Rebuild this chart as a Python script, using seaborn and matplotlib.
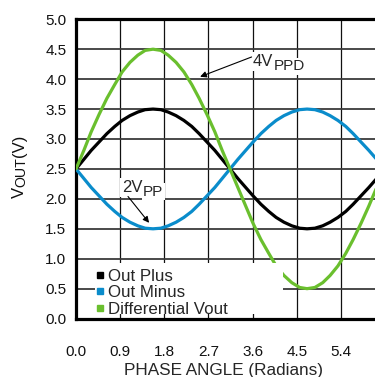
import pandas as pd
import matplotlib
matplotlib.use("Agg")
import matplotlib.pyplot as plt
import seaborn as sns
from matplotlib.lines import Line2D
from matplotlib.patches import Rectangle

# values (radians / volts)
phase = [0.00, 0.16, 0.31, 0.47, 0.63, 0.79, 0.94, 1.10, 1.26, 1.41, 1.57,
         1.73, 1.88, 2.04, 2.20, 2.36, 2.51, 2.67, 2.83, 2.98, 3.14,
         3.30, 3.46, 3.61, 3.77, 3.93, 4.08, 4.24, 4.40, 4.56, 4.71,
         4.87, 5.03, 5.18, 5.34, 5.50, 5.65, 5.81, 5.97, 6.13, 6.28]
out_plus = [2.50, 2.66, 2.81, 2.95, 3.09, 3.21, 3.31, 3.39, 3.45, 3.49, 3.50,
            3.49, 3.45, 3.39, 3.31, 3.21, 3.09, 2.95, 2.81, 2.66, 2.50,
            2.34, 2.19, 2.05, 1.91, 1.79, 1.69, 1.61, 1.55, 1.51, 1.50,
            1.51, 1.55, 1.61, 1.69, 1.79, 1.91, 2.05, 2.19, 2.34, 2.50]
out_minus = [2.50, 2.34, 2.19, 2.05, 1.91, 1.79, 1.69, 1.61, 1.55, 1.51, 1.50,
             1.51, 1.55, 1.61, 1.69, 1.79, 1.91, 2.05, 2.19, 2.34, 2.50,
             2.66, 2.81, 2.95, 3.09, 3.21, 3.31, 3.39, 3.45, 3.49, 3.50,
             3.49, 3.45, 3.39, 3.31, 3.21, 3.09, 2.95, 2.81, 2.66, 2.50]
diff_vout = [2.50, 2.81, 3.12, 3.41, 3.68, 3.91, 4.12, 4.28, 4.40, 4.48, 4.50,
             4.48, 4.40, 4.28, 4.12, 3.91, 3.68, 3.41, 3.12, 2.81, 2.50,
             2.19, 1.88, 1.59, 1.32, 1.09, 0.88, 0.72, 0.60, 0.52, 0.50,
             0.52, 0.60, 0.72, 0.88, 1.09, 1.32, 1.59, 1.88, 2.19, 2.50]

series_names = ["Out Plus", "Out Minus", "Differential Vout"]
series_colors = ["#000000", "#0a8ccb", "#6abf2e"]
x_ticks = [0.0, 0.9, 1.8, 2.7, 3.6, 4.5, 5.4]
y_ticks = [0.0, 0.5, 1.0, 1.5, 2.0, 2.5, 3.0, 3.5, 4.0, 4.5, 5.0]

df = pd.concat([
    pd.DataFrame({"phase": phase, "vout": out_plus, "series": "Out Plus"}),
    pd.DataFrame({"phase": phase, "vout": out_minus, "series": "Out Minus"}),
    pd.DataFrame({"phase": phase, "vout": diff_vout, "series": "Differential Vout"}),
])

sns.set_style("white")
plt.rcParams['font.family'] = ['Liberation Sans', 'DejaVu Sans']

fig = plt.figure(figsize=(3.75, 3.77), dpi=100)
ax = fig.add_axes([0.2027, 0.1549, 0.824, 0.794])

g = sns.lineplot(data=df, x="phase", y="vout", hue="series",
                 palette=dict(zip(series_names, series_colors)),
                 hue_order=series_names, estimator=None, sort=False,
                 linewidth=2.3, legend=False, ax=ax, zorder=3)

ax.set_xlim(0, 6.3)
ax.set_ylim(0, 5.0)
ax.set_xticks(x_ticks)
ax.set_xticklabels([f"{t:.1f}" for t in x_ticks])
ax.set_yticks(y_ticks)
ax.set_yticklabels([f"{t:.1f}" for t in y_ticks])
ax.tick_params(axis='both', length=0, labelsize=11, colors='#111111')
ax.tick_params(axis='x', pad=19)
ax.tick_params(axis='y', pad=7)
ax.xaxis.grid(True, color='#111111', linewidth=0.9)
ax.yaxis.grid(True, color='#3a3a3a', linewidth=1.3)
ax.set_axisbelow(True)
for side in ['left', 'top', 'bottom']:
    ax.spines[side].set_linewidth(2.3)
    ax.spines[side].set_color('black')
ax.spines['right'].set_visible(False)

ax.set_xlabel("PHASE ANGLE (Radians)", fontsize=12.3, labelpad=3, x=0.476)
ax.set_ylabel("")

# y label with a large subscript: V, OUT, (V)
yl_v = fig.text(19 / 375, 1 - 198 / 377, "V", rotation=90, fontsize=12,
                ha='center', va='bottom', color='#111111')
yl_sub = ax.annotate("OUT", xy=(1, 1), xycoords=yl_v, xytext=(1.5, 0),
                     textcoords='offset points', rotation=90, fontsize=10.2,
                     ha='right', va='bottom', color='#111111',
                     annotation_clip=False)
ax.annotate("(V)", xy=(1, 1), xycoords=(yl_v, yl_sub), rotation=90,
            fontsize=12, ha='right', va='bottom', color='#111111',
            annotation_clip=False)

# white box behind the legend
ax.add_patch(Rectangle((0.39, 0.08), 3.83, 0.85, facecolor='white',
                       edgecolor='none', zorder=4))
handles = [Line2D([], [], marker='s', linestyle='none', color=c, markersize=4.5)
           for c in series_colors]
leg = ax.legend(handles, series_names, loc='upper left', frameon=False,
                bbox_to_anchor=(0.38, 0.85), bbox_transform=ax.transData,
                fontsize=12.2, handlelength=0.5, handletextpad=0.25,
                labelspacing=0.1, borderpad=0.05, borderaxespad=0)
leg.set_zorder(5)


def callout(main, sub, pos, start, tip):
    t = ax.text(pos[0], pos[1], main, fontsize=12, va='baseline', ha='left',
                zorder=6,
                bbox=dict(facecolor='white', edgecolor='none', pad=1.5))
    ax.annotate(sub, xy=(1, 0), xycoords=t, xytext=(0.3, -3.0),
                textcoords='offset points', fontsize=11, va='bottom',
                ha='left', zorder=7,
                bbox=dict(facecolor='white', edgecolor='none', pad=1.0))
    ax.annotate("", xy=tip, xytext=start, zorder=8,
                arrowprops=dict(arrowstyle='-|>', color='black', lw=0.8,
                                mutation_scale=9, shrinkA=0, shrinkB=0))


callout("2V", "PP", (0.94, 2.12), (1.06, 2.04), (1.49, 1.60))
callout("4V", "PPD", (3.60, 4.22), (3.58, 4.37), (2.53, 4.04))

plt.savefig("out.png", dpi=100)
